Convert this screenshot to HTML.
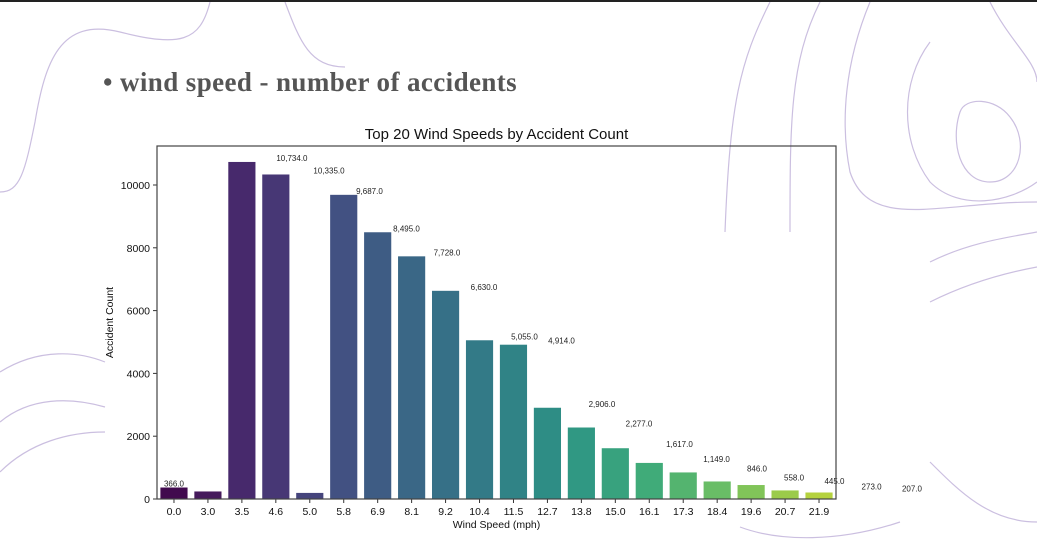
<!DOCTYPE html>
<html><head><meta charset="utf-8"><style>
html,body{margin:0;padding:0;background:#fff;}
#wrap{position:relative;width:1037px;height:544px;overflow:hidden;background:#fff;border-top:2px solid #222;box-sizing:border-box;}
#title{position:absolute;left:103px;top:65px;font-family:"Liberation Serif",serif;font-weight:bold;font-size:27px;letter-spacing:0.4px;color:#555;}
svg{position:absolute;left:0;top:0;}
</style></head><body>
<div id="wrap">
<svg width="1037" height="544">
 <g fill="none" stroke="#cbbfe0" stroke-width="1.2">
  <path d="M210 0 C200 40 180 45 120 30 C60 15 45 60 35 120 C25 170 20 190 0 190"/>
  <path d="M285 0 C300 40 310 65 345 65"/>
  <path d="M770 0 C740 60 730 100 725 230"/>
  <path d="M820 0 C790 60 790 120 790 230"/>
  <path d="M870 0 C845 60 840 120 850 170 C870 230 940 200 1037 200"/>
  <path d="M930 40 C900 80 900 140 930 180 C960 210 1010 200 1037 180"/>
  <path d="M960 110 C950 140 960 180 990 180 C1020 180 1030 140 1010 115 C995 95 965 95 960 110Z"/>
  <path d="M990 0 C1010 40 1037 60 1037 80"/>
  <path d="M930 260 C970 240 1010 235 1037 230"/>
  <path d="M930 300 C970 280 1010 270 1037 265"/>
  <path d="M0 370 C40 345 80 350 105 360"/>
  <path d="M0 420 C30 395 70 395 105 405"/>
  <path d="M0 470 C30 440 70 430 105 430"/>
  <path d="M930 460 C960 490 990 520 1037 520"/>
  <path d="M740 525 C780 540 840 540 900 520"/>
 </g>
</svg>
<div id="title">• wind speed - number of accidents</div>
<svg id="chart" width="1037" height="544"></svg>
</div>
<script>
const categories=["0.0","3.0","3.5","4.6","5.0","5.8","6.9","8.1","9.2","10.4","11.5","12.7","13.8","15.0","16.1","17.3","18.4","19.6","20.7","21.9"];
const counts=[366,240,10734,10335,194,9687,8495,7728,6630,5055,4914,2906,2277,1617,1149,846,558,445,273,207];
const yTicks=[0,2000,4000,6000,8000,10000];
const labelTexts=["366.0","240.0","10,734.0","10,335.0","194.0","9,687.0","8,495.0","7,728.0","6,630.0","5,055.0","4,914.0","2,906.0","2,277.0","1,617.0","1,149.0","846.0","558.0","445.0","273.0","207.0"];

const NS="http://www.w3.org/2000/svg";
const svg=document.getElementById('chart');
const L=157,R=836,T=144,B=497;
const yScale=v=>B-v*(B-183)/10000;
const step=(R-L)/categories.length;
const xBand=i=>L+step*(i+0.5);
const xNum=s=>L+step*0.5+parseFloat(s)*33.7;
const vir=[[68,1,84],[72,40,120],[62,74,137],[49,104,142],[38,130,142],[31,158,137],[53,183,121],[109,205,89],[180,222,44],[253,231,37]];
function viridis(t){t=Math.min(1,Math.max(0,t))*(vir.length-1);const i=Math.min(vir.length-2,Math.floor(t)),f=t-i;
 const c=vir[i].map((a,k)=>Math.round(a+(vir[i+1][k]-a)*f));
 const g=(c[0]+c[1]+c[2])/3;const d=c.map(a=>Math.round(a*0.82+g*0.18));
 return `rgb(${d})`;}
function mk(tag,attrs,txt){const e=document.createElementNS(NS,tag);for(const k in attrs)e.setAttribute(k,attrs[k]);if(txt!=null)e.textContent=txt;svg.appendChild(e);return e;}
const F='"Liberation Sans", "DejaVu Sans", sans-serif';

let t=mk('text',{x:(L+R)/2,y:137,'text-anchor':'middle','font-family':F,'font-size':15,fill:'#111'},'Top 20 Wind Speeds by Accident Count');



counts.forEach((v,i)=>{
 const bw=step*0.8;
 const r=mk('rect',{x:xBand(i)-bw/2,y:yScale(v),width:bw,height:B-yScale(v),fill:viridis(i/(counts.length-1)*0.9)});
 
 
 const lb=mk('text',{x:xNum(categories[i]),y:yScale(v)-1,'text-anchor':'middle','font-family':F,'font-size':8,fill:'#222'},labelTexts[i]);
 
 
 mk('line',{x1:xBand(i),x2:xBand(i),y1:B,y2:B+4,stroke:'#333'});
 const xl=mk('text',{x:xBand(i),y:B+16,'text-anchor':'middle','font-family':F,'font-size':10.5,fill:'#111'},categories[i]);
 
 
});
yTicks.forEach(v=>{
 mk('line',{x1:L-4,x2:L,y1:yScale(v),y2:yScale(v),stroke:'#333'});
 const yl=mk('text',{x:L-7,y:yScale(v)+4,'text-anchor':'end','font-family':F,'font-size':10.5,fill:'#111'},String(v));
 
 
});
const fr=mk('rect',{x:L,y:T,width:R-L,height:B-T,fill:'none',stroke:'#444','stroke-width':1.2});


const xt=mk('text',{x:(L+R)/2,y:526,'text-anchor':'middle','font-family':F,'font-size':10.5,fill:'#111'},'Wind Speed (mph)');


const yt=mk('text',{x:0,y:0,'text-anchor':'middle','font-family':F,'font-size':10.5,fill:'#111',transform:`translate(113,${(T+B)/2}) rotate(-90)`},'Accident Count');


</script>
</body></html>
